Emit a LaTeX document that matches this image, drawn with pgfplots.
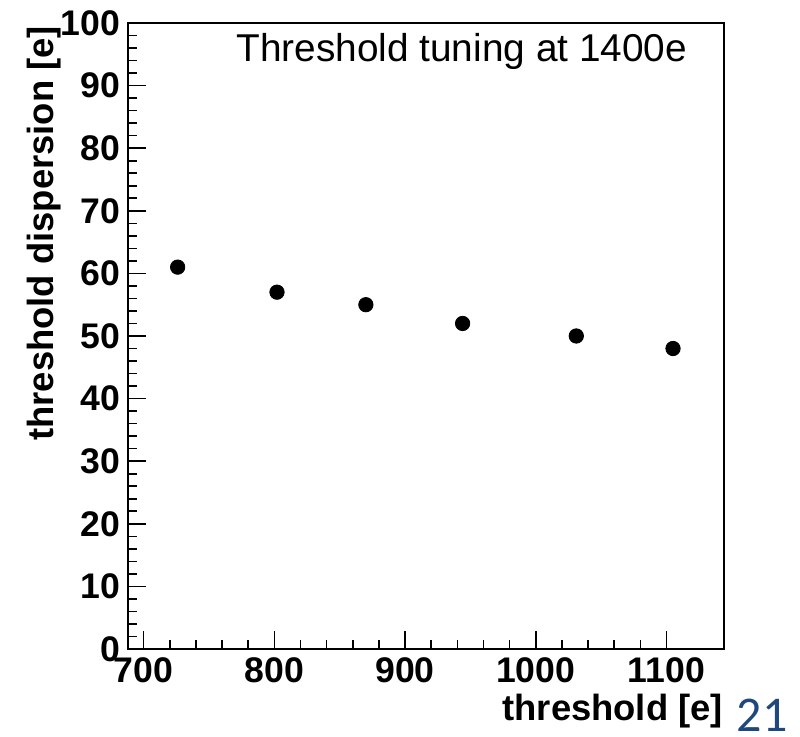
\documentclass[border=0pt]{standalone}
\usepackage{fontspec}
\setmainfont{Liberation Sans}
\newfontfamily\slidefont{Carlito}
\usepackage{pgfplots}
\pgfplotsset{compat=1.18}
\definecolor{slideblue}{HTML}{1F497D}

\begin{document}
\begin{tikzpicture}
\useasboundingbox (-64pt,-44pt) rectangle (336pt,324.5pt);
\begin{axis}[
  at={(0,0)}, anchor=south west,
  scale only axis,
  width=298pt, height=313pt,
  xmin=688, xmax=1144,
  ymin=0, ymax=100,
  xtick={700,800,...,1100},
  ytick={0,10,...,100},
  minor x tick num=4,
  minor y tick num=4,
  xtick pos=left, ytick pos=left,
  tick align=inside,
  major tick length=9pt,
  minor tick length=4.5pt,
  axis line style={line width=0.8pt},
  every tick/.style={line width=0.8pt, black},
  /pgf/number format/assume math mode=true,
  /pgf/number format/1000 sep={},
  ticklabel style={font=\fontsize{17.8}{20}\selectfont\bfseries},
  xticklabel style={yshift=-1pt},
  yticklabel style={xshift=-0.5pt},
  xlabel={threshold [e]},
  ylabel={threshold dispersion [e]},
  label style={font=\fontsize{18.2}{21}\selectfont\bfseries},
  xlabel style={at={(axis description cs:1,0)}, anchor=north east, yshift=-19pt, xshift=3pt},
  ylabel style={at={(axis description cs:-0.101,1)}, anchor=south east, xshift=2pt},
]
\addplot[only marks, mark=*, mark size=3.6pt, black] coordinates {
  (726,61) (802,57) (870,55) (944,52) (1031,50) (1105,48)
};
\node[font=\fontsize{19.4}{22}\selectfont] at (axis description cs:0.56,0.954) {Threshold tuning at 1400e};
\end{axis}
\node[font=\slidefont\fontsize{25}{28}\selectfont, text=slideblue, inner sep=0pt] at (317pt,-33pt) {21};
\end{tikzpicture}
\end{document}
